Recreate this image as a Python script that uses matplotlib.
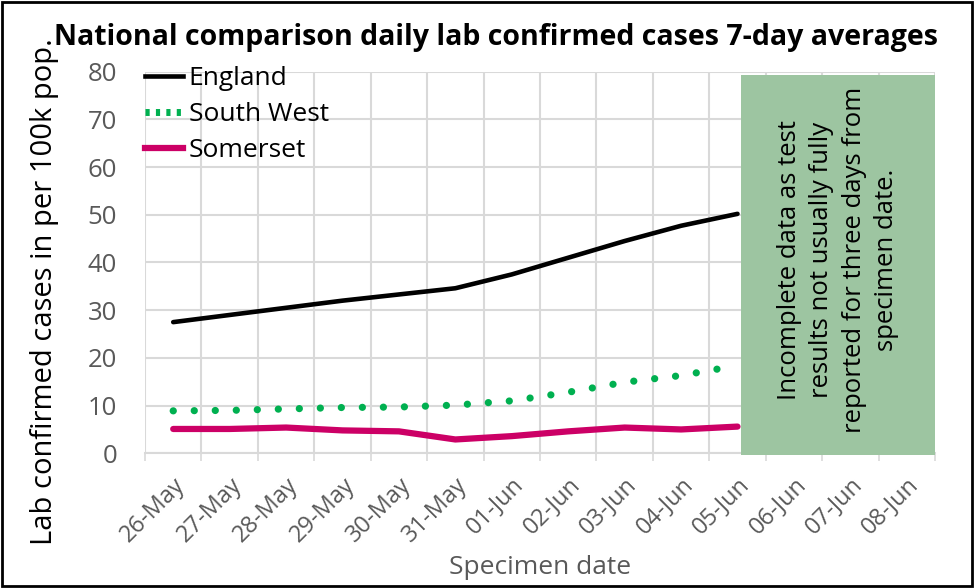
import numpy as np
import matplotlib.pyplot as plt
from matplotlib.patches import Rectangle
from matplotlib.lines import Line2D

plt.rcParams['font.family'] = ['Open Sans', 'DejaVu Sans']

# dates shown on the category axis
dates = ['26-May', '27-May', '28-May', '29-May', '30-May', '31-May', '01-Jun',
         '02-Jun', '03-Jun', '04-Jun', '05-Jun', '06-Jun', '07-Jun', '08-Jun']

# 7-day averages per 100k (up to 05-Jun)
england = [27.5, 29.0, 30.5, 32.0, 33.3, 34.6, 37.5, 41.0, 44.5, 47.7, 50.2]
south_west = [8.9, 9.0, 9.3, 9.6, 9.7, 10.1, 11.0, 12.8, 14.9, 16.3, 18.4]
somerset = [5.1, 5.1, 5.4, 4.8, 4.6, 2.9, 3.6, 4.6, 5.4, 5.0, 5.6]

note = ('Incomplete data as test\nresults not usually fully\n'
        'reported for three days from\nspecimen date.')

grey = '#595959'
gridc = '#D9D9D9'
green = '#00B050'

fig = plt.figure(figsize=(9.75, 5.88), dpi=100)
ax = fig.add_axes([145 / 975, 1 - 453.3 / 588, 790 / 975, 381.6 / 588])

x = np.arange(len(england))
ax.plot(x, england, color='black', lw=3.3, solid_capstyle='round', zorder=3)
ax.plot(x, south_west, color=green, lw=5.2, linestyle=(0, (0.01, 2.9)),
        dash_capstyle='round', zorder=3)
ax.plot(x, somerset, color='#CC0066', lw=4.5, solid_capstyle='round', zorder=3)

ax.set_xlim(-0.5, len(dates) - 0.5)
ax.set_ylim(0, 80)
ax.set_yticks(np.arange(0, 81, 10))
ax.set_xticks(np.arange(len(dates)))
ax.set_xticklabels(dates, rotation=45, ha='right', rotation_mode='anchor')
ax.set_xticks(np.arange(len(dates) + 1) - 0.5, minor=True)

ax.tick_params(axis='y', length=0, pad=20, labelsize=18.5, labelcolor=grey)
ax.tick_params(axis='x', which='major', length=0, pad=14, labelsize=17, labelcolor=grey)
ax.tick_params(axis='x', which='minor', length=6, width=1.2, color=gridc)

ax.grid(axis='y', color=gridc, lw=1.5, zorder=0)
ax.grid(axis='x', which='minor', color=gridc, lw=1.5, zorder=0)
for s in ['left', 'right', 'top']:
    ax.spines[s].set_visible(False)
ax.spines['bottom'].set_color(gridc)
ax.spines['bottom'].set_linewidth(1.5)
ax.set_axisbelow(True)

# grey-green box over the incomplete days
box = Rectangle((10.06, -0.3), 13.5 - 10.06, 79.6, facecolor='#9DC5A1',
                edgecolor='none', zorder=5, clip_on=False)
ax.add_patch(box)
ax.text((10.06 + 13.5) / 2, 40.5, note, rotation=90, ha='center', va='center',
        fontsize=18.5, linespacing=1.4, multialignment='center', zorder=6)

handles = [Line2D([], [], color='black', lw=3.3),
           Line2D([], [], color=green, lw=5, linestyle=(0, (0.6, 0.9))),
           Line2D([], [], color='#CC0066', lw=4.5)]
ax.legend(handles, ['England', 'South West', 'Somerset'], loc='upper left',
          bbox_to_anchor=(0.0, 1.015), frameon=False,
          fontsize=19, handlelength=1.45, handletextpad=0.2,
          labelspacing=0.42, borderaxespad=0, borderpad=0)

fig.text(496 / 975, 1 - 37 / 588,
         'National comparison daily lab confirmed cases 7-day averages',
         ha='center', va='center', fontsize=20.5, fontweight='bold')
fig.text(45 / 975, 1 - 292 / 588, 'Lab confirmed cases in per 100k pop.',
         rotation=90, ha='center', va='center', fontsize=21)
fig.text(540 / 975, 1 - 567 / 588, 'Specimen date', ha='center', va='center',
         fontsize=19, color=grey)

fig.patches.append(Rectangle((0.002, 0.003), 0.995, 0.994, transform=fig.transFigure,
                             fill=False, edgecolor='black', lw=2))

fig.savefig('out.png', dpi=100)
